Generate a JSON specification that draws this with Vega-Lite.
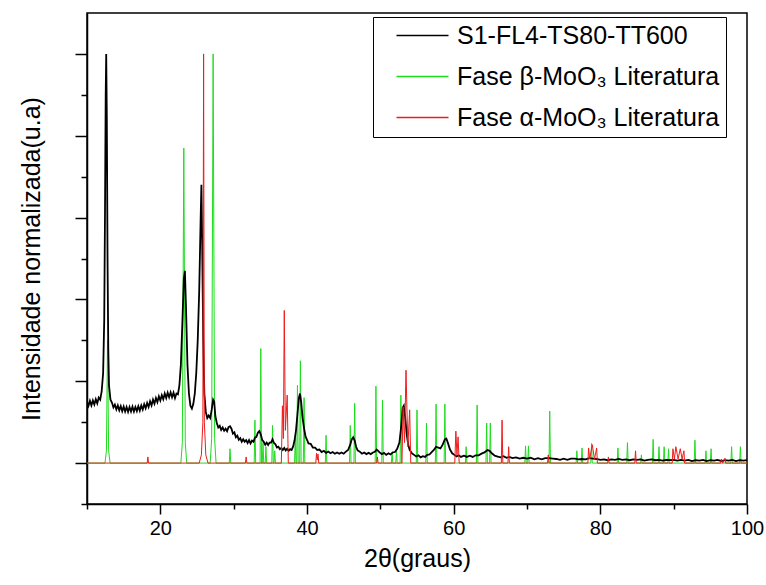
{
  "$schema": "https://vega.github.io/schema/vega-lite/v6.json",
  "width": 660,
  "height": 491,
  "autosize": {"type": "none"},
  "padding": {"left": 87, "top": 13, "right": 19, "bottom": 81},
  "background": "#ffffff",
  "config": {
    "font": "Liberation Sans",
    "view": {"stroke": "#000000", "strokeWidth": 1.5},
    "axis": {"grid": false, "domainColor": "#000000", "domainWidth": 1.5, "tickColor": "#000000", "tickWidth": 1.5, "labelColor": "#000000", "titleColor": "#000000", "titleFontWeight": "normal", "titleFont": "Liberation Sans", "labelFont": "Liberation Sans"}
  },
  "datasets": {
    "exp": [
      {"x":10.0,"y":0.150},{"x":10.2,"y":0.140},{"x":10.4,"y":0.152},{"x":10.6,"y":0.141},{"x":10.8,"y":0.153},{"x":11.0,"y":0.143},{"x":11.2,"y":0.156},{"x":11.4,"y":0.146},{"x":11.6,"y":0.160},{"x":11.8,"y":0.155},{"x":12.0,"y":0.175},{"x":12.2,"y":0.22},{"x":12.35,"y":0.35},{"x":12.45,"y":0.6},{"x":12.55,"y":0.9},{"x":12.62,"y":1.0},{"x":12.7,"y":0.85},{"x":12.8,"y":0.5},{"x":12.9,"y":0.28},{"x":13.0,"y":0.19},{"x":13.2,"y":0.155},
      {"x":13.4,"y":0.148},{"x":13.6,"y":0.136},{"x":13.8,"y":0.143},{"x":14.0,"y":0.131},{"x":14.2,"y":0.141},{"x":14.4,"y":0.129},{"x":14.6,"y":0.139},{"x":14.8,"y":0.127},{"x":15.0,"y":0.138},{"x":15.2,"y":0.126},{"x":15.4,"y":0.137},{"x":15.6,"y":0.125},{"x":15.8,"y":0.137},{"x":16.0,"y":0.126},{"x":16.2,"y":0.138},{"x":16.4,"y":0.126},{"x":16.6,"y":0.137},{"x":16.8,"y":0.127},{"x":17.0,"y":0.139},{"x":17.2,"y":0.128},{"x":17.4,"y":0.141},{"x":17.6,"y":0.131},{"x":17.8,"y":0.144},{"x":18.0,"y":0.134},{"x":18.2,"y":0.147},{"x":18.4,"y":0.137},{"x":18.6,"y":0.151},{"x":18.8,"y":0.141},{"x":19.0,"y":0.155},{"x":19.2,"y":0.145},{"x":19.4,"y":0.159},{"x":19.6,"y":0.149},{"x":19.8,"y":0.163},{"x":20.0,"y":0.153},{"x":20.2,"y":0.166},{"x":20.4,"y":0.156},{"x":20.6,"y":0.170},{"x":20.8,"y":0.159},{"x":21.0,"y":0.172},{"x":21.2,"y":0.161},{"x":21.4,"y":0.173},{"x":21.6,"y":0.161},{"x":21.8,"y":0.172},{"x":22.0,"y":0.159},{"x":22.2,"y":0.170},{"x":22.4,"y":0.168},
      {"x":22.6,"y":0.19},{"x":22.8,"y":0.24},{"x":23.0,"y":0.34},{"x":23.2,"y":0.45},{"x":23.35,"y":0.47},{"x":23.5,"y":0.38},{"x":23.7,"y":0.24},{"x":23.9,"y":0.17},{"x":24.1,"y":0.14},{"x":24.3,"y":0.133},{"x":24.5,"y":0.145},{"x":24.7,"y":0.17},{"x":24.9,"y":0.22},{"x":25.1,"y":0.3},{"x":25.3,"y":0.42},{"x":25.5,"y":0.6},{"x":25.6,"y":0.68},{"x":25.7,"y":0.55},{"x":25.85,"y":0.3},{"x":26.0,"y":0.17},{"x":26.2,"y":0.125},{"x":26.4,"y":0.11},{"x":26.6,"y":0.116},{"x":26.8,"y":0.11},{"x":27.0,"y":0.13},{"x":27.2,"y":0.155},{"x":27.35,"y":0.15},{"x":27.5,"y":0.115},
      {"x":27.7,"y":0.098},{"x":27.9,"y":0.087},{"x":28.1,"y":0.091},{"x":28.3,"y":0.081},{"x":28.5,"y":0.087},{"x":28.7,"y":0.079},{"x":28.9,"y":0.084},{"x":29.1,"y":0.078},{"x":29.3,"y":0.088},{"x":29.5,"y":0.09},{"x":29.7,"y":0.084},{"x":29.9,"y":0.072},{"x":30.1,"y":0.075},{"x":30.3,"y":0.063},{"x":30.5,"y":0.067},{"x":30.7,"y":0.057},{"x":30.9,"y":0.061},{"x":31.1,"y":0.052},{"x":31.3,"y":0.058},{"x":31.5,"y":0.052},{"x":31.7,"y":0.056},{"x":31.9,"y":0.049},{"x":32.1,"y":0.056},{"x":32.3,"y":0.048},{"x":32.5,"y":0.055},{"x":32.7,"y":0.052},{"x":32.9,"y":0.062},{"x":33.1,"y":0.064},{"x":33.3,"y":0.074},{"x":33.5,"y":0.078},{"x":33.7,"y":0.07},{"x":33.9,"y":0.056},{"x":34.1,"y":0.052},{"x":34.3,"y":0.045},{"x":34.5,"y":0.05},{"x":34.7,"y":0.044},{"x":34.9,"y":0.05},{"x":35.1,"y":0.05},{"x":35.3,"y":0.058},{"x":35.5,"y":0.049},{"x":35.7,"y":0.046},{"x":35.9,"y":0.038},{"x":36.1,"y":0.04},{"x":36.3,"y":0.034},{"x":36.5,"y":0.037},{"x":36.7,"y":0.032},{"x":36.9,"y":0.037},{"x":37.1,"y":0.031},{"x":37.3,"y":0.035},{"x":37.5,"y":0.03},{"x":37.7,"y":0.034},{"x":37.9,"y":0.032},{"x":38.1,"y":0.04},{"x":38.3,"y":0.055},{"x":38.5,"y":0.08},{"x":38.7,"y":0.12},{"x":38.9,"y":0.16},{"x":39.05,"y":0.17},{"x":39.2,"y":0.15},{"x":39.4,"y":0.11},{"x":39.6,"y":0.085},{"x":39.8,"y":0.065},{"x":40.0,"y":0.057},{"x":40.2,"y":0.048},{"x":40.5,"y":0.047},{"x":40.8,"y":0.038},
      {"x":41.1,"y":0.038},{"x":41.4,"y":0.032},{"x":41.7,"y":0.033},{"x":42.0,"y":0.027},{"x":42.3,"y":0.03},{"x":42.6,"y":0.025},{"x":42.9,"y":0.028},{"x":43.2,"y":0.024},{"x":43.5,"y":0.027},{"x":43.8,"y":0.023},{"x":44.1,"y":0.026},{"x":44.4,"y":0.023},{"x":44.7,"y":0.026},{"x":45.0,"y":0.023},{"x":45.3,"y":0.028},{"x":45.6,"y":0.032},{"x":45.9,"y":0.045},{"x":46.1,"y":0.058},{"x":46.3,"y":0.063},{"x":46.5,"y":0.055},{"x":46.7,"y":0.04},{"x":46.9,"y":0.031},{"x":47.2,"y":0.028},{"x":47.5,"y":0.023},{"x":47.8,"y":0.026},{"x":48.1,"y":0.022},{"x":48.4,"y":0.025},{"x":48.7,"y":0.022},{"x":49.0,"y":0.026},{"x":49.3,"y":0.028},{"x":49.5,"y":0.033},{"x":49.7,"y":0.03},{"x":49.9,"y":0.026},{"x":50.2,"y":0.022},{"x":50.5,"y":0.025},{"x":50.8,"y":0.02},{"x":51.1,"y":0.024},{"x":51.4,"y":0.021},{"x":51.7,"y":0.026},{"x":52.0,"y":0.027},{"x":52.3,"y":0.035},{"x":52.6,"y":0.05},{"x":52.85,"y":0.09},{"x":53.05,"y":0.135},{"x":53.2,"y":0.14},{"x":53.4,"y":0.11},{"x":53.6,"y":0.07},{"x":53.8,"y":0.045},{"x":54.0,"y":0.032},{"x":54.3,"y":0.024},{"x":54.6,"y":0.02},{"x":54.9,"y":0.016},{"x":55.2,"y":0.019},{"x":55.5,"y":0.014},{"x":55.8,"y":0.017},{"x":56.1,"y":0.015},{"x":56.4,"y":0.02},{"x":56.7,"y":0.021},{"x":57.0,"y":0.027},{"x":57.3,"y":0.032},{"x":57.6,"y":0.04},{"x":57.9,"y":0.038},{"x":58.2,"y":0.036},{"x":58.5,"y":0.045},{"x":58.8,"y":0.058},{"x":59.0,"y":0.06},{"x":59.2,"y":0.05},{"x":59.5,"y":0.033},{"x":59.8,"y":0.024},{"x":60.1,"y":0.02},{"x":60.4,"y":0.016},{"x":60.7,"y":0.019},{"x":61.0,"y":0.015},{"x":61.4,"y":0.018},{"x":61.8,"y":0.015},{"x":62.2,"y":0.018},{"x":62.6,"y":0.015},{"x":63.0,"y":0.019},{"x":63.4,"y":0.019},{"x":63.8,"y":0.023},{"x":64.2,"y":0.026},{"x":64.6,"y":0.032},{"x":64.9,"y":0.03},{"x":65.2,"y":0.024},{"x":65.6,"y":0.018},{"x":66.0,"y":0.016},{"x":66.4,"y":0.014},{"x":66.8,"y":0.017},{"x":67.2,"y":0.013},{"x":67.6,"y":0.015},{"x":68.0,"y":0.012},{"x":68.5,"y":0.014},{"x":69.0,"y":0.011},{"x":69.5,"y":0.013},{"x":70.0,"y":0.011},{"x":70.5,"y":0.013},{"x":71.0,"y":0.009},{"x":71.5,"y":0.012},{"x":72.0,"y":0.009},{"x":72.5,"y":0.012},{"x":73.0,"y":0.012},{"x":73.5,"y":0.011},{"x":74.0,"y":0.01},{"x":74.5,"y":0.008},{"x":75.0,"y":0.011},{"x":75.5,"y":0.008},{"x":76.0,"y":0.011},{"x":76.5,"y":0.011},{"x":77.0,"y":0.009},{"x":77.5,"y":0.01},{"x":78.0,"y":0.009},{"x":78.5,"y":0.012},{"x":79.0,"y":0.011},{"x":79.5,"y":0.01},{"x":80.0,"y":0.008},{"x":80.5,"y":0.009},{"x":81.0,"y":0.007},{"x":81.5,"y":0.009},{"x":82.0,"y":0.008},{"x":82.5,"y":0.01},{"x":83.0,"y":0.008},{"x":83.5,"y":0.009},{"x":84.0,"y":0.007},{"x":84.5,"y":0.009},{"x":85.0,"y":0.008},{"x":85.5,"y":0.009},{"x":86.0,"y":0.006},{"x":86.5,"y":0.008},{"x":87.0,"y":0.009},{"x":87.5,"y":0.007},{"x":88.0,"y":0.008},{"x":88.5,"y":0.006},{"x":89.0,"y":0.008},{"x":89.5,"y":0.007},{"x":90.0,"y":0.008},{"x":90.5,"y":0.006},{"x":91.0,"y":0.008},{"x":91.5,"y":0.006},{"x":92.0,"y":0.008},{"x":92.5,"y":0.005},{"x":93.0,"y":0.007},{"x":93.5,"y":0.006},{"x":94.0,"y":0.008},{"x":94.5,"y":0.005},{"x":95.0,"y":0.007},{"x":95.5,"y":0.006},{"x":96.0,"y":0.008},{"x":96.5,"y":0.005},{"x":97.0,"y":0.007},{"x":97.5,"y":0.006},{"x":98.0,"y":0.008},{"x":98.5,"y":0.005},{"x":99.0,"y":0.007},{"x":99.5,"y":0.006},{"x":100.0,"y":0.007}
    ],
    "beta": [
      {"x":10,"y":0},
      {"x":12.45,"y":0},{"x":12.65,"y":0.03},{"x":12.8,"y":0.3},{"x":12.95,"y":0.03},{"x":13.15,"y":0},
      {"x":22.8,"y":0},{"x":23.0,"y":0.05},{"x":23.2,"y":0.77},{"x":23.4,"y":0.05},{"x":23.6,"y":0},
      {"x":26.8,"y":0},{"x":27.0,"y":0.06},{"x":27.2,"y":1.0},{"x":27.4,"y":0.06},{"x":27.6,"y":0},
      {"x":29.4,"y":0},{"x":29.5,"y":0.035},{"x":29.6,"y":0},
      {"x":32.8,"y":0},{"x":32.9,"y":0.105},{"x":33.0,"y":0},
      {"x":33.6,"y":0},{"x":33.7,"y":0.28},{"x":33.8,"y":0},
      {"x":33.9,"y":0},{"x":34.0,"y":0.05},{"x":34.1,"y":0},
      {"x":34.3,"y":0},{"x":34.4,"y":0.04},{"x":34.5,"y":0},
      {"x":35.2,"y":0},{"x":35.3,"y":0.092},{"x":35.4,"y":0},
      {"x":35.5,"y":0},{"x":35.6,"y":0.03},{"x":35.7,"y":0},
      {"x":38.3,"y":0},{"x":38.4,"y":0.06},{"x":38.5,"y":0},
      {"x":38.6,"y":0},{"x":38.7,"y":0.19},{"x":38.8,"y":0},
      {"x":39.0,"y":0},{"x":39.1,"y":0.25},{"x":39.2,"y":0},
      {"x":39.5,"y":0},{"x":39.6,"y":0.16},{"x":39.7,"y":0},
      {"x":42.5,"y":0},{"x":42.6,"y":0.068},{"x":42.7,"y":0},
      {"x":45.8,"y":0},{"x":45.9,"y":0.092},{"x":46.0,"y":0},
      {"x":46.4,"y":0},{"x":46.5,"y":0.146},{"x":46.6,"y":0},
      {"x":49.3,"y":0},{"x":49.4,"y":0.188},{"x":49.5,"y":0},
      {"x":50.2,"y":0},{"x":50.3,"y":0.154},{"x":50.4,"y":0},
      {"x":51.5,"y":0},{"x":51.6,"y":0.025},{"x":51.7,"y":0},
      {"x":52.1,"y":0},{"x":52.2,"y":0.03},{"x":52.3,"y":0},
      {"x":52.7,"y":0},{"x":52.8,"y":0.166},{"x":52.9,"y":0},
      {"x":54.9,"y":0},{"x":55.0,"y":0.13},{"x":55.1,"y":0},
      {"x":56.2,"y":0},{"x":56.3,"y":0.098},{"x":56.4,"y":0},
      {"x":57.5,"y":0},{"x":57.6,"y":0.144},{"x":57.7,"y":0},
      {"x":58.7,"y":0},{"x":58.8,"y":0.144},{"x":58.9,"y":0},
      {"x":61.6,"y":0},{"x":61.7,"y":0.04},{"x":61.8,"y":0},
      {"x":63.1,"y":0},{"x":63.2,"y":0.142},{"x":63.3,"y":0},
      {"x":64.4,"y":0},{"x":64.5,"y":0.098},{"x":64.6,"y":0},
      {"x":64.9,"y":0},{"x":65.0,"y":0.098},{"x":65.1,"y":0},
      {"x":69.7,"y":0},{"x":69.8,"y":0.042},{"x":69.9,"y":0},
      {"x":70.1,"y":0},{"x":70.2,"y":0.042},{"x":70.3,"y":0},
      {"x":73.0,"y":0},{"x":73.1,"y":0.127},{"x":73.2,"y":0},
      {"x":76.7,"y":0},{"x":76.8,"y":0.03},{"x":76.9,"y":0},
      {"x":77.4,"y":0},{"x":77.5,"y":0.037},{"x":77.6,"y":0},
      {"x":78.7,"y":0},{"x":78.8,"y":0.048},{"x":78.9,"y":0},
      {"x":82.3,"y":0},{"x":82.4,"y":0.037},{"x":82.5,"y":0},
      {"x":83.6,"y":0},{"x":83.7,"y":0.05},{"x":83.8,"y":0},
      {"x":85.5,"y":0},{"x":85.6,"y":0.02},{"x":85.7,"y":0},
      {"x":87.1,"y":0},{"x":87.2,"y":0.058},{"x":87.3,"y":0},
      {"x":87.9,"y":0},{"x":88.0,"y":0.04},{"x":88.1,"y":0},
      {"x":88.6,"y":0},{"x":88.7,"y":0.04},{"x":88.8,"y":0},
      {"x":89.2,"y":0},{"x":89.3,"y":0.035},{"x":89.4,"y":0},
      {"x":92.8,"y":0},{"x":92.9,"y":0.056},{"x":93.0,"y":0},
      {"x":94.3,"y":0},{"x":94.4,"y":0.03},{"x":94.5,"y":0},
      {"x":95.0,"y":0},{"x":95.1,"y":0.035},{"x":95.2,"y":0},
      {"x":97.8,"y":0},{"x":97.9,"y":0.04},{"x":98.0,"y":0},
      {"x":99.0,"y":0},{"x":99.1,"y":0.04},{"x":99.2,"y":0},
      {"x":100,"y":0}
    ],
    "alpha": [
      {"x":10,"y":0},
      {"x":18.2,"y":0},{"x":18.3,"y":0.015},{"x":18.4,"y":0},
      {"x":25.3,"y":0},{"x":25.6,"y":0.02},{"x":25.8,"y":0.1},{"x":25.9,"y":1.0},{"x":26.0,"y":0.1},{"x":26.2,"y":0.02},{"x":26.5,"y":0},
      {"x":31.6,"y":0},{"x":31.7,"y":0.015},{"x":31.8,"y":0},
      {"x":36.5,"y":0},{"x":36.65,"y":0.14},{"x":36.78,"y":0.06},{"x":36.9,"y":0.373},{"x":37.05,"y":0.08},{"x":37.3,"y":0.166},{"x":37.45,"y":0},
      {"x":41.2,"y":0},{"x":41.3,"y":0.024},{"x":41.4,"y":0.008},{"x":41.5,"y":0.022},{"x":41.6,"y":0},
      {"x":49.5,"y":0},{"x":49.6,"y":0.015},{"x":49.7,"y":0},
      {"x":52.95,"y":0},{"x":53.1,"y":0.137},{"x":53.3,"y":0.05},{"x":53.5,"y":0.227},{"x":53.75,"y":0.04},{"x":54.0,"y":0.13},{"x":54.15,"y":0},
      {"x":60.15,"y":0},{"x":60.3,"y":0.078},{"x":60.45,"y":0.02},{"x":60.6,"y":0.064},{"x":60.75,"y":0},
      {"x":66.5,"y":0},{"x":66.6,"y":0.105},{"x":66.7,"y":0},
      {"x":67.4,"y":0},{"x":67.5,"y":0.04},{"x":67.6,"y":0},
      {"x":72.8,"y":0},{"x":72.9,"y":0.02},{"x":73.0,"y":0},
      {"x":78.3,"y":0},{"x":78.4,"y":0.037},{"x":78.55,"y":0.01},{"x":78.9,"y":0.045},{"x":79.2,"y":0.01},{"x":79.5,"y":0.037},{"x":79.6,"y":0},
      {"x":81.0,"y":0},{"x":81.1,"y":0.015},{"x":81.2,"y":0},
      {"x":84.7,"y":0},{"x":84.8,"y":0.03},{"x":84.9,"y":0},
      {"x":89.8,"y":0},{"x":89.9,"y":0.035},{"x":90.1,"y":0.01},{"x":90.3,"y":0.04},{"x":90.6,"y":0.01},{"x":90.9,"y":0.035},{"x":91.15,"y":0.01},{"x":91.4,"y":0.03},{"x":91.5,"y":0},
      {"x":96.4,"y":0},{"x":96.5,"y":0.01},{"x":96.7,"y":0},{"x":97.0,"y":0.012},{"x":97.1,"y":0},
      {"x":100,"y":0}
    ]
  },
  "encoding": {
    "x": {
      "field": "x", "type": "quantitative",
      "scale": {"domain": [10, 100], "nice": false, "zero": false},
      "axis": {
        "title": "2θ(graus)",
        "values": [10, 20, 30, 40, 50, 60, 70, 80, 90, 100],
        "labelExpr": "datum.value % 20 === 0 ? datum.label : ''",
        "tickSize": {"condition": {"test": "datum.value % 20 === 0", "value": 10}, "value": 5},
        "labelFontSize": 20, "titleFontSize": 25,
        "labelPadding": 4, "titlePadding": 8,
        "labelFlush": false, "labelOverlap": false
      }
    },
    "y": {
      "field": "y", "type": "quantitative",
      "scale": {"domain": [-0.1, 1.1], "nice": false, "zero": false},
      "axis": {
        "title": "Intensidade normalizada(u.a)",
        "values": [-0.1, 0, 0.1, 0.2, 0.3, 0.4, 0.5, 0.6, 0.7, 0.8, 0.9, 1.0],
        "labels": false,
        "tickSize": {"condition": {"test": "abs(round(datum.value * 10)) % 2 === 0", "value": 12}, "value": 6},
        "titleFontSize": 25, "titlePadding": 30
      }
    }
  },
  "layer": [
    {
      "data": {"name": "beta"},
      "mark": {"type": "line", "strokeWidth": 1, "clip": true},
      "encoding": {
        "color": {
          "datum": "Fase β-MoO₃ Literatura",
          "scale": {"domain": ["S1-FL4-TS80-TT600", "Fase β-MoO₃ Literatura", "Fase α-MoO₃ Literatura"], "range": ["#000000", "#1fdc1f", "#ee1c1c"]},
          "legend": {"orient": "none", "legendX": 286, "legendY": 4, "title": null, "strokeColor": "#000000", "padding": 6, "symbolType": "M0.5,0H5.7", "symbolSize": 400, "symbolStrokeWidth": 1.5, "labelOffset": 53, "labelFontSize": 25, "labelLimit": 500, "labelColor": "#000000", "rowPadding": 15, "labelExpr": "datum.label + '\u00a0'"}
        }
      }
    },
    {
      "data": {"name": "exp"},
      "mark": {"type": "line", "strokeWidth": 1.8, "clip": true},
      "encoding": {
        "color": {
          "datum": "S1-FL4-TS80-TT600",
          "scale": {"domain": ["S1-FL4-TS80-TT600", "Fase β-MoO₃ Literatura", "Fase α-MoO₃ Literatura"], "range": ["#000000", "#1fdc1f", "#ee1c1c"]},
          "legend": {"orient": "none", "legendX": 286, "legendY": 4, "title": null, "strokeColor": "#000000", "padding": 6, "symbolType": "M0.5,0H5.7", "symbolSize": 400, "symbolStrokeWidth": 1.5, "labelOffset": 53, "labelFontSize": 25, "labelLimit": 500, "labelColor": "#000000", "rowPadding": 15, "labelExpr": "datum.label + '\u00a0'"}
        }
      }
    },
    {
      "data": {"name": "alpha"},
      "mark": {"type": "line", "strokeWidth": 1, "clip": true},
      "encoding": {
        "color": {
          "datum": "Fase α-MoO₃ Literatura",
          "scale": {"domain": ["S1-FL4-TS80-TT600", "Fase β-MoO₃ Literatura", "Fase α-MoO₃ Literatura"], "range": ["#000000", "#1fdc1f", "#ee1c1c"]},
          "legend": {"orient": "none", "legendX": 286, "legendY": 4, "title": null, "strokeColor": "#000000", "padding": 6, "symbolType": "M0.5,0H5.7", "symbolSize": 400, "symbolStrokeWidth": 1.5, "labelOffset": 53, "labelFontSize": 25, "labelLimit": 500, "labelColor": "#000000", "rowPadding": 15, "labelExpr": "datum.label + '\u00a0'"}
        }
      }
    }
  ]
}
